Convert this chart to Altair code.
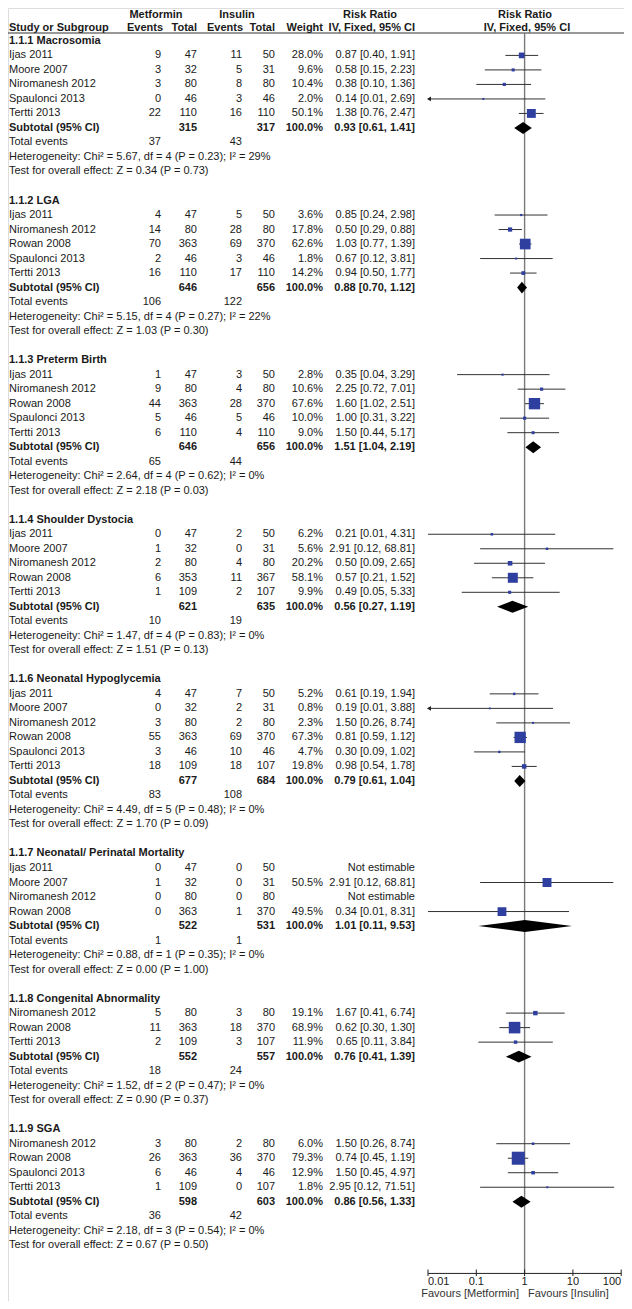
import altair as alt
import pandas as pd

# ---------------- data ----------------
section_titles = ["1.1.1 Macrosomia", "1.1.2 LGA", "1.1.3 Preterm Birth", "1.1.4 Shoulder Dystocia",
                  "1.1.6 Neonatal Hypoglycemia", "1.1.7 Neonatal/ Perinatal Mortality",
                  "1.1.8 Congenital Abnormality", "1.1.9 SGA"]

study_section = [0, 0, 0, 0, 0,
                 1, 1, 1, 1, 1,
                 2, 2, 2, 2, 2,
                 3, 3, 3, 3, 3,
                 4, 4, 4, 4, 4, 4,
                 5, 5, 5, 5,
                 6, 6, 6,
                 7, 7, 7, 7]
study_name = ["Ijas 2011", "Moore 2007", "Niromanesh 2012", "Spaulonci 2013", "Tertti 2013",
              "Ijas 2011", "Niromanesh 2012", "Rowan 2008", "Spaulonci 2013", "Tertti 2013",
              "Ijas 2011", "Niromanesh 2012", "Rowan 2008", "Spaulonci 2013", "Tertti 2013",
              "Ijas 2011", "Moore 2007", "Niromanesh 2012", "Rowan 2008", "Tertti 2013",
              "Ijas 2011", "Moore 2007", "Niromanesh 2012", "Rowan 2008", "Spaulonci 2013", "Tertti 2013",
              "Ijas 2011", "Moore 2007", "Niromanesh 2012", "Rowan 2008",
              "Niromanesh 2012", "Rowan 2008", "Tertti 2013",
              "Niromanesh 2012", "Rowan 2008", "Spaulonci 2013", "Tertti 2013"]
met_events = [9, 3, 3, 0, 22,
              4, 14, 70, 2, 16,
              1, 9, 44, 5, 6,
              0, 1, 2, 6, 1,
              4, 0, 3, 55, 3, 18,
              0, 1, 0, 0,
              5, 11, 2,
              3, 26, 6, 1]
met_total = [47, 32, 80, 46, 110,
             47, 80, 363, 46, 110,
             47, 80, 363, 46, 110,
             47, 32, 80, 353, 109,
             47, 32, 80, 363, 46, 109,
             47, 32, 80, 363,
             80, 363, 109,
             80, 363, 46, 109]
ins_events = [11, 5, 8, 3, 16,
              5, 28, 69, 3, 17,
              3, 4, 28, 5, 4,
              2, 0, 4, 11, 2,
              7, 2, 2, 69, 10, 18,
              0, 0, 0, 1,
              3, 18, 3,
              2, 36, 4, 0]
ins_total = [50, 31, 80, 46, 110,
             50, 80, 370, 46, 110,
             50, 80, 370, 46, 110,
             50, 31, 80, 367, 107,
             50, 31, 80, 370, 46, 107,
             50, 31, 80, 370,
             80, 370, 107,
             80, 370, 46, 107]
weight = [28.0, 9.6, 10.4, 2.0, 50.1,
          3.6, 17.8, 62.6, 1.8, 14.2,
          2.8, 10.6, 67.6, 10.0, 9.0,
          6.2, 5.6, 20.2, 58.1, 9.9,
          5.2, 0.8, 2.3, 67.3, 4.7, 19.8,
          None, 50.5, None, 49.5,
          19.1, 68.9, 11.9,
          6.0, 79.3, 12.9, 1.8]
rr = [0.87, 0.58, 0.38, 0.14, 1.38,
      0.85, 0.50, 1.03, 0.67, 0.94,
      0.35, 2.25, 1.60, 1.00, 1.50,
      0.21, 2.91, 0.50, 0.57, 0.49,
      0.61, 0.19, 1.50, 0.81, 0.30, 0.98,
      None, 2.91, None, 0.34,
      1.67, 0.62, 0.65,
      1.50, 0.74, 1.50, 2.95]
ci_lo = [0.40, 0.15, 0.10, 0.01, 0.76,
         0.24, 0.29, 0.77, 0.12, 0.50,
         0.04, 0.72, 1.02, 0.31, 0.44,
         0.01, 0.12, 0.09, 0.21, 0.05,
         0.19, 0.01, 0.26, 0.59, 0.09, 0.54,
         None, 0.12, None, 0.01,
         0.41, 0.30, 0.11,
         0.26, 0.45, 0.45, 0.12]
ci_hi = [1.91, 2.23, 1.36, 2.69, 2.47,
         2.98, 0.88, 1.39, 3.81, 1.77,
         3.29, 7.01, 2.51, 3.22, 5.17,
         4.31, 68.81, 2.65, 1.52, 5.33,
         1.94, 3.88, 8.74, 1.12, 1.02, 1.78,
         None, 68.81, None, 8.31,
         6.74, 1.30, 3.84,
         8.74, 1.19, 4.97, 71.51]
ci_truncated_left = [False, False, False, True, False,
                     False, False, False, False, False,
                     False, False, False, False, False,
                     False, False, False, False, False,
                     False, True, False, False, False, False,
                     False, False, False, False,
                     False, False, False,
                     False, False, False, False]

sub_met_total = [315, 646, 646, 621, 677, 522, 552, 598]
sub_ins_total = [317, 656, 656, 635, 684, 531, 557, 603]
sub_rr = [0.93, 0.88, 1.51, 0.56, 0.79, 1.01, 0.76, 0.86]
sub_lo = [0.61, 0.70, 1.04, 0.27, 0.61, 0.11, 0.41, 0.56]
sub_hi = [1.41, 1.12, 2.19, 1.19, 1.04, 9.53, 1.39, 1.33]
tot_met_events = [37, 106, 65, 10, 83, 1, 18, 36]
tot_ins_events = [43, 122, 44, 19, 108, 1, 24, 42]
het_text = ["Heterogeneity: Chi² = 5.67, df = 4 (P = 0.23); I² = 29%",
            "Heterogeneity: Chi² = 5.15, df = 4 (P = 0.27); I² = 22%",
            "Heterogeneity: Chi² = 2.64, df = 4 (P = 0.62); I² = 0%",
            "Heterogeneity: Chi² = 1.47, df = 4 (P = 0.83); I² = 0%",
            "Heterogeneity: Chi² = 4.49, df = 5 (P = 0.48); I² = 0%",
            "Heterogeneity: Chi² = 0.88, df = 1 (P = 0.35); I² = 0%",
            "Heterogeneity: Chi² = 1.52, df = 2 (P = 0.47); I² = 0%",
            "Heterogeneity: Chi² = 2.18, df = 3 (P = 0.54); I² = 0%"]
test_text = ["Test for overall effect: Z = 0.34 (P = 0.73)",
             "Test for overall effect: Z = 1.03 (P = 0.30)",
             "Test for overall effect: Z = 2.18 (P = 0.03)",
             "Test for overall effect: Z = 1.51 (P = 0.13)",
             "Test for overall effect: Z = 1.70 (P = 0.09)",
             "Test for overall effect: Z = 0.00 (P = 1.00)",
             "Test for overall effect: Z = 0.90 (P = 0.37)",
             "Test for overall effect: Z = 0.67 (P = 0.50)"]

tick_values = [0.01, 0.1, 1, 10, 100]
tick_labels = ["0.01", "0.1", "1", "10", "100"]
favours_left = "Favours [Metformin]"
favours_right = "Favours [Insulin]"

# ---------------- build tables ----------------
def fmt_ci(r, l, h):
    if r is None:
        return "Not estimable"
    return f"{r:.2f} [{l:.2f}, {h:.2f}]"

text_rows = []
study_rows = []
sub_rows = []
row = 0
for s, title in enumerate(section_titles):
    text_rows.append(dict(row=row, name=title, me="", mt="", ie="", it="", w="", ci="", bold=1))
    row += 1
    for i, sec in enumerate(study_section):
        if sec != s:
            continue
        wtxt = "" if weight[i] is None else f"{weight[i]:.1f}%"
        text_rows.append(dict(row=row, name=study_name[i], me=str(met_events[i]), mt=str(met_total[i]),
                              ie=str(ins_events[i]), it=str(ins_total[i]), w=wtxt,
                              ci=fmt_ci(rr[i], ci_lo[i], ci_hi[i]), bold=0))
        if rr[i] is not None:
            study_rows.append(dict(row=row, rr=rr[i], lo=ci_lo[i], hi=ci_hi[i],
                                   sz=(1.7 + 0.143 * weight[i]) ** 2,
                                   trunc=1 if ci_truncated_left[i] else 0))
        row += 1
    text_rows.append(dict(row=row, name="Subtotal (95% CI)", me="", mt=str(sub_met_total[s]), ie="",
                          it=str(sub_ins_total[s]), w="100.0%",
                          ci=fmt_ci(sub_rr[s], sub_lo[s], sub_hi[s]), bold=1))
    sub_rows += [dict(grp=s, x=sub_lo[s], y1=row, y2=row),
                 dict(grp=s, x=sub_rr[s], y1=row - 0.41, y2=row + 0.41),
                 dict(grp=s, x=sub_hi[s], y1=row, y2=row)]
    row += 1
    text_rows.append(dict(row=row, name="Total events", me=str(tot_met_events[s]), mt="",
                          ie=str(tot_ins_events[s]), it="", w="", ci="", bold=0))
    row += 1
    text_rows.append(dict(row=row, name=het_text[s], me="", mt="", ie="", it="", w="", ci="", bold=0))
    row += 1
    text_rows.append(dict(row=row, name=test_text[s], me="", mt="", ie="", it="", w="", ci="", bold=0))
    row += 2

df_text = pd.DataFrame(text_rows)
df_study = pd.DataFrame(study_rows)
df_sub = pd.DataFrame(sub_rows)

# layout constants (row units)
R_H1, R_H2, R_RULE = -1.785, -0.923, -0.544
R_AXIS, R_TICKLAB, R_FAV = 84.94, 85.55, 86.37
W, H = 616, 1293

df_ticks = pd.DataFrame({"v": tick_values, "lab": tick_labels, "row": R_AXIS,
                         "r1": R_AXIS - 0.27, "r2": R_AXIS + 0.18, "rl": R_TICKLAB})
df_axis = pd.DataFrame({"lo": [tick_values[0]], "hi": [tick_values[-1]], "row": [R_AXIS]})
df_vline = pd.DataFrame({"v": [1], "r1": [R_RULE], "r2": [R_AXIS]})

FONT = "Liberation Sans"
TXT = "#1a1a1a"
xscale = alt.Scale(type="log", domain=[0.01, 100], range=[420, 613.2], clamp=True)
yscale = alt.Scale(domain=[-2.267, 86.84], reverse=True, zero=False, nice=False)
Y = alt.Y("row:Q", scale=yscale, axis=None)

layers = []

# table text columns
def col(field, px, align, bold):
    return (alt.Chart(df_text)
            .transform_filter(alt.datum.bold == bold)
            .mark_text(align=align, baseline="middle", font=FONT, fontSize=11, color=TXT,
                       fontWeight="bold" if bold else "normal")
            .encode(x=alt.value(px), y=Y, text=f"{field}:N"))

for b in (0, 1):
    layers.append(col("name", 1, "left", b))
    layers.append(col("me", 153, "right", b))
    layers.append(col("mt", 189, "right", b))
    layers.append(col("ie", 234, "right", b))
    layers.append(col("it", 267, "right", b))
    layers.append(col("w", 315, "right", b))
    layers.append(col("ci", 407, "right", b))

# header
headers = [("Metformin", 148, "center", R_H1), ("Insulin", 229, "center", R_H1),
           ("Risk Ratio", 362, "center", R_H1), ("Risk Ratio", 517, "center", R_H1),
           ("Study or Subgroup", 1, "left", R_H2), ("Events", 155, "right", R_H2),
           ("Total", 189, "right", R_H2), ("Events", 235, "right", R_H2),
           ("Total", 267, "right", R_H2), ("Weight", 315, "right", R_H2),
           ("IV, Fixed, 95% CI", 407, "right", R_H2), ("IV, Fixed, 95% CI", 519, "center", R_H2)]
for t, px, al, r in headers:
    layers.append(alt.Chart(pd.DataFrame({"t": [t], "row": [r]}))
                  .mark_text(align=al, baseline="middle", font=FONT, fontSize=11, fontWeight="bold", color=TXT)
                  .encode(x=alt.value(px), y=Y, text="t:N"))

# header rule
layers.append(alt.Chart(pd.DataFrame({"row": [R_RULE]}))
              .mark_rule(color="#333333", strokeWidth=1)
              .encode(x=alt.value(0), x2=alt.value(W), y=Y))

# vertical line of no effect
layers.append(alt.Chart(df_vline).mark_rule(color="#7a7a7a", strokeWidth=1.4)
              .encode(x=alt.X("v:Q", scale=xscale, axis=None),
                      y=alt.Y("r1:Q", scale=yscale, axis=None), y2="r2:Q"))

# CI lines
layers.append(alt.Chart(df_study).mark_rule(color="#333333", strokeWidth=1)
              .encode(x=alt.X("lo:Q", scale=xscale, axis=None), x2="hi:Q", y=Y))
# left arrows for truncated CIs
layers.append(alt.Chart(df_study).transform_filter(alt.datum.trunc == 1)
              .mark_point(shape="triangle-left", filled=True, size=22, color="#222222", opacity=1, xOffset=1)
              .encode(x=alt.X("lo:Q", scale=xscale, axis=None), y=Y))
# squares
layers.append(alt.Chart(df_study).mark_square(color="#2e3f9f", opacity=1)
              .encode(x=alt.X("rr:Q", scale=xscale, axis=None), y=Y,
                      size=alt.Size("sz:Q", scale=None, legend=None)))
# diamonds
layers.append(alt.Chart(df_sub).mark_area(color="black", orient="vertical", opacity=1)
              .encode(x=alt.X("x:Q", scale=xscale, axis=None),
                      y=alt.Y("y1:Q", scale=yscale, axis=None), y2="y2:Q",
                      detail="grp:N"))

# axis
layers.append(alt.Chart(df_axis).mark_rule(color="#222222", strokeWidth=1)
              .encode(x=alt.X("lo:Q", scale=xscale, axis=None), x2="hi:Q", y=Y))
layers.append(alt.Chart(df_ticks).mark_rule(color="#222222", strokeWidth=1)
              .encode(x=alt.X("v:Q", scale=xscale, axis=None),
                      y=alt.Y("r1:Q", scale=yscale, axis=None), y2="r2:Q"))
n = len(tick_values)
for lo_i, hi_i, al in [(0, 1, "left"), (1, n - 1, "center"), (n - 1, n, "right")]:
    layers.append(alt.Chart(df_ticks.iloc[lo_i:hi_i])
                  .mark_text(align=al, baseline="middle", font=FONT, fontSize=11, color=TXT)
                  .encode(x=alt.X("v:Q", scale=xscale, axis=None),
                          y=alt.Y("rl:Q", scale=yscale, axis=None), text="lab:N"))
layers.append(alt.Chart(pd.DataFrame({"t": [favours_left], "row": [R_FAV]}))
              .mark_text(align="right", baseline="middle", font=FONT, fontSize=11, color="#333333")
              .encode(x=alt.value(511), y=Y, text="t:N"))
layers.append(alt.Chart(pd.DataFrame({"t": [favours_right], "row": [R_FAV]}))
              .mark_text(align="left", baseline="middle", font=FONT, fontSize=11, color="#333333")
              .encode(x=alt.value(520), y=Y, text="t:N"))

chart = (alt.layer(*layers)
         .properties(width=W, height=H, padding=0, autosize=alt.AutoSizeParams(type="none"))
         .configure_view(stroke=None)
         .configure(background="white"))

chart.save("out.html", embed_options={"renderer": "svg", "actions": False})
